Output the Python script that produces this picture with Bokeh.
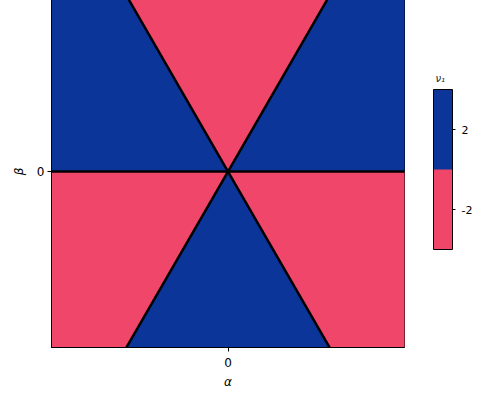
from bokeh.plotting import figure
from bokeh.models import ColorBar, LinearColorMapper, FixedTicker, Range1d, ColumnDataSource, LinearAxis
from bokeh.transform import transform
from bokeh.embed import file_html
from bokeh.resources import INLINE

# sectors of the (alpha, beta) plane, angles in degrees
sector_start = [0, 60, 120, 180, 240, 300]
sector_end = [60, 120, 180, 240, 300, 360]
nu1 = [2, -2, 2, -2, 2, -2]
boundary_angles = [0, 60, 120, 180, 240, 300]
palette = ["#ef4669", "#0b3599"]
cbar_low, cbar_high = -4, 4
cbar_ticks = [-2, 2]
cbar_labels = {-2: "-2", 2: "2"}
cbar_title = "ν₁"
axis_ticks = [0]
FONT = "DejaVu Sans"

mapper = LinearColorMapper(palette=palette, low=cbar_low, high=cbar_high)

p = figure(frame_width=353, frame_height=352, output_backend="svg", toolbar_location=None,
           x_range=Range1d(-1, 1), y_range=Range1d(-1, 1),
           min_border_left=43, min_border_right=76, min_border_top=0, min_border_bottom=39,
           margin=(-5, 0, 0, 8))

src = ColumnDataSource(dict(start=sector_start, end=sector_end, nu1=nu1))
p.wedge(x=0, y=0, radius=3, start_angle="start", end_angle="end",
        start_angle_units="deg", end_angle_units="deg",
        source=src, fill_color=transform("nu1", mapper), line_color=None)
p.ray(x=0, y=0, length=0, angle=boundary_angles, angle_units="deg",
      line_color="black", line_width=2.5)

p.grid.visible = False
p.outline_line_color = "black"
p.outline_line_width = 1
p.outline_line_alpha = 1

for ax in (p.xaxis[0], p.yaxis[0]):
    ax.ticker = FixedTicker(ticks=axis_ticks)
    ax.minor_tick_line_color = None
    ax.major_tick_in = 0
    ax.major_tick_out = 4
    ax.major_tick_line_color = "black"
    ax.axis_line_color = "black"
    ax.major_label_text_font = FONT
    ax.major_label_text_font_size = "12px"
    ax.major_label_text_color = "black"
    ax.axis_label_text_font = FONT
    ax.axis_label_text_font_size = "12px"
    ax.axis_label_text_font_style = "italic"
    ax.axis_label_text_color = "black"
p.xaxis[0].axis_label = "α"
p.yaxis[0].axis_label = "β"
p.xaxis[0].major_label_standoff = 6
p.xaxis[0].axis_label_standoff = 5
p.yaxis[0].major_label_standoff = 3
p.yaxis[0].axis_label_standoff = 8

cb = ColorBar(color_mapper=mapper, ticker=FixedTicker(ticks=cbar_ticks),
              major_label_overrides=cbar_labels,
              orientation="vertical",
              width=19, height=160, location=(382, 98),
              major_label_text_font=FONT, major_label_text_font_size="11px",
              major_label_text_color="black",
              major_tick_line_color="black", major_tick_in=0, major_tick_out=3,
              bar_line_color="black", bar_line_width=1,
              background_fill_color=None, border_line_color=None,
              padding=0, margin=0, label_standoff=6)
p.add_layout(cb, "center")

# colour-bar title, drawn as the only label of a bare axis on the right side
title_pos = 0.528
title_axis = LinearAxis(ticker=FixedTicker(ticks=[title_pos]),
                        major_label_overrides={title_pos: cbar_title},
                        axis_line_color=None, major_tick_line_color=None,
                        minor_tick_line_color=None,
                        major_tick_in=0, major_tick_out=0, major_label_standoff=31,
                        major_label_text_font=FONT, major_label_text_font_size="10px",
                        major_label_text_font_style="italic",
                        major_label_text_color="#222222")
p.add_layout(title_axis, "right")

open("out.html", "w").write(file_html(p, INLINE))
